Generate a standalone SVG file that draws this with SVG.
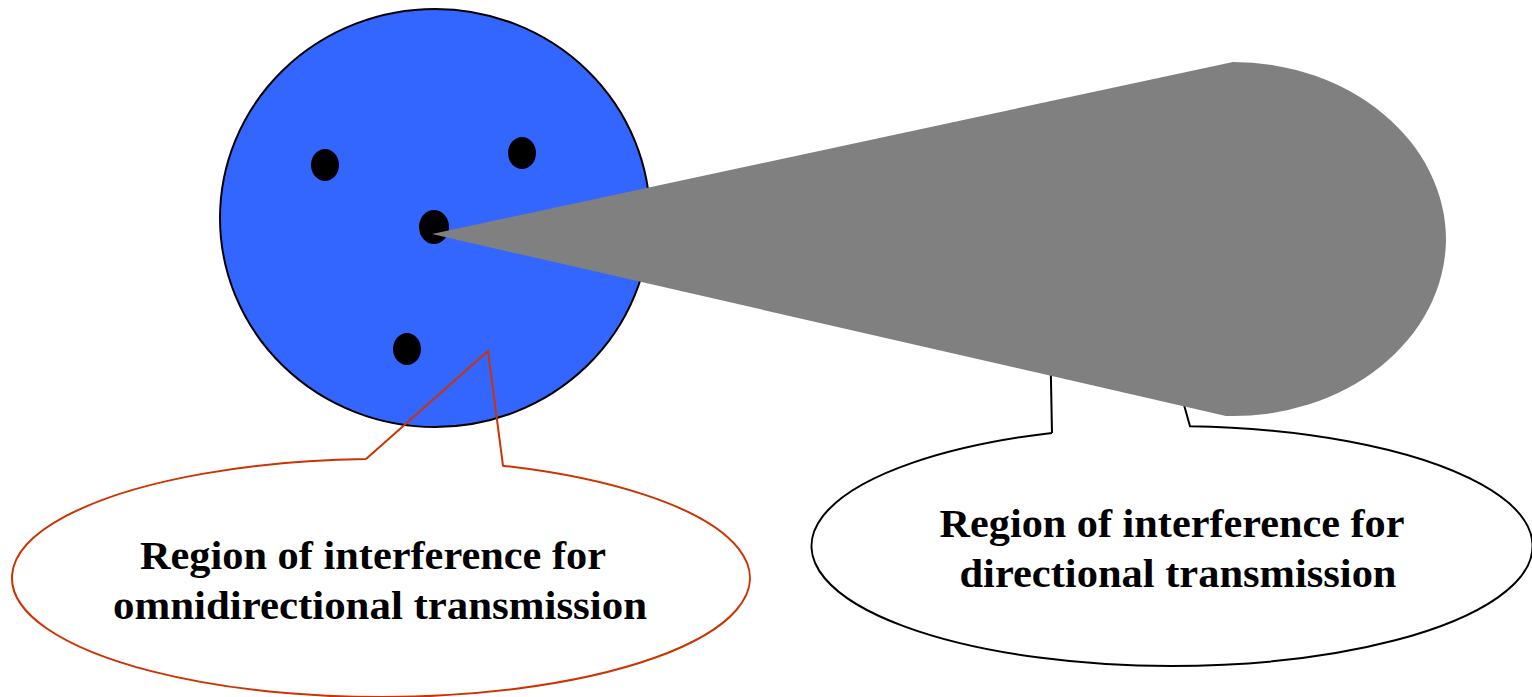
<svg xmlns="http://www.w3.org/2000/svg" width="1532" height="697" viewBox="0 0 1532 697">
  <style>
    .label { font-family: "Liberation Serif", "Times New Roman", serif; font-weight: bold; font-size: 40px; fill: #000; text-anchor: middle; }
    .node-dot { fill: #000; }
    .callout-red { fill: none; stroke: #CC3300; stroke-width: 2; }
    .callout-black { fill: none; stroke: #000; stroke-width: 2; }
  </style>

  <!-- omnidirectional range -->
  <g id="omni-region">
    <ellipse cx="435" cy="218" rx="215" ry="209" fill="#3366FF" stroke="#000" stroke-width="2"/>
  </g>

  <!-- nodes -->
  <g id="node-a"><ellipse class="node-dot" cx="325" cy="165" rx="14" ry="16"/></g>
  <g id="node-b"><ellipse class="node-dot" cx="522" cy="153" rx="14" ry="16"/></g>
  <g id="node-c"><ellipse class="node-dot" cx="434" cy="227" rx="15" ry="17"/></g>
  <g id="node-d"><ellipse class="node-dot" cx="407" cy="349" rx="14" ry="16"/></g>

  <!-- callout for the directional beam (tail passes under the beam) -->
  <g id="callout-directional">
    <path class="callout-black" d="M 1052 432.9 L 1050 330 L 1163 330 L 1190 426.2 A 360.5 120 0 1 1 1052 432.9"/>
    <text class="label" x="1172" y="537" textLength="465" lengthAdjust="spacingAndGlyphs">Region of interference for</text>
    <text class="label" x="1178" y="587" textLength="437" lengthAdjust="spacingAndGlyphs">directional transmission</text>
  </g>

  <!-- directional beam -->
  <g id="directional-beam">
    <path d="M 432 234 L 1233 62 A 213 178 0 0 1 1446 240 A 213 178 0 0 1 1226 416 Z" fill="#808080"/>
  </g>

  <!-- callout for omnidirectional range -->
  <g id="callout-omni">
    <path class="callout-red" d="M 366 459.1 L 488 351 L 503 465.7 A 369 119 0 1 1 366 459.1"/>
    <text class="label" x="373" y="569" textLength="466" lengthAdjust="spacingAndGlyphs">Region of interference for</text>
    <text class="label" x="380" y="619" textLength="534" lengthAdjust="spacingAndGlyphs">omnidirectional transmission</text>
  </g>
</svg>
